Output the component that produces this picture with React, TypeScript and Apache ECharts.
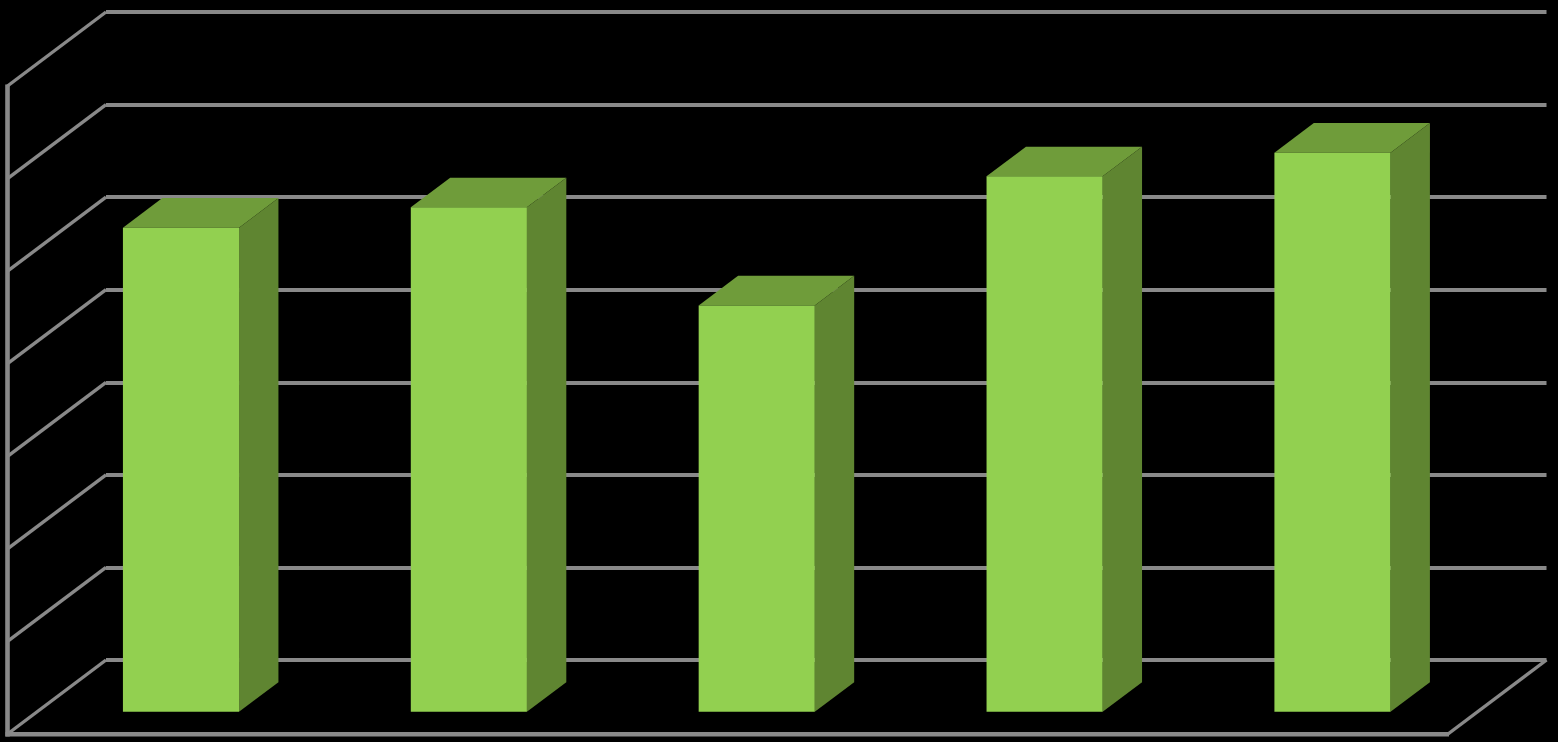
import React, { useEffect, useRef } from "react";
import * as echarts from "echarts";

const categories = ["1", "2", "3", "4", "5"];
const values = [5.23, 5.45, 4.39, 5.785, 6.04];
const axisTicks = [0, 1, 2, 3, 4, 5, 6, 7];

const FRONT_COLOR = "#92D050";
const SIDE_COLOR = "#5F8531";
const TOP_COLOR = "#6F9C3A";
const LINE_COLOR = "#898989";

// Floor depth in screen pixels; bars sit between 30% and 70% of it.
const DEPTH_X = 98.5;
const DEPTH_Y = 74;
const BAR_NEAR = 0.7;
const BAR_FAR = 0.3;
const BAR_WIDTH = 0.403;
// The bars' row is very slightly narrower than the back wall.
const ROW_SCALE = 0.9992;

export default function App() {
  const ref = useRef<HTMLDivElement>(null);

  useEffect(() => {
    document.body.style.margin = "0";
    document.body.style.background = "#000";
    const chart = echarts.init(ref.current!, undefined, { renderer: "svg" });
    chart.setOption({
      animation: false,
      backgroundColor: "#000000",
      grid: { left: 106, top: 12, width: 1440.5, height: 648 },
      xAxis: {
        type: "category",
        data: categories,
        axisLine: { show: false },
        axisTick: { show: false },
        axisLabel: { show: false },
        splitLine: { show: false },
      },
      yAxis: {
        type: "value",
        min: 0,
        max: 7,
        interval: 1,
        axisLine: { show: false },
        axisTick: { show: false },
        axisLabel: { show: false },
        splitLine: { show: true, lineStyle: { color: LINE_COLOR, width: 3.8 } },
      },
      series: [
        {
          // Side wall and floor, hung on the value axis ticks.
          type: "custom",
          z: 1,
          silent: true,
          clip: false,
          data: axisTicks.map((t) => [0, t]),
          encode: { x: 0, y: 1 },
          renderItem: (params: any, api: any) => {
            const sys = params.coordSys;
            const y = api.coord([0, api.value(1)])[1];
            const left = sys.x;
            const right = sys.x + sys.width;
            const stroke = { stroke: LINE_COLOR, lineWidth: 3.4, fill: null };
            const children: any[] = [
              {
                type: "line",
                shape: { x1: left, y1: y, x2: left - DEPTH_X, y2: y + DEPTH_Y },
                style: stroke,
              },
            ];
            if (api.value(1) === 0) {
              const topY = sys.y + DEPTH_Y;
              const heavy = { stroke: LINE_COLOR, lineWidth: 4.6, fill: null };
              children.push(
                {
                  type: "line",
                  shape: { x1: left - DEPTH_X, y1: topY - 1.5, x2: left - DEPTH_X, y2: y + DEPTH_Y + 2.5 },
                  style: heavy,
                },
                {
                  type: "line",
                  shape: { x1: left - DEPTH_X - 2, y1: y + DEPTH_Y + 0.3, x2: right - DEPTH_X + 1, y2: y + DEPTH_Y + 0.3 },
                  style: heavy,
                },
                {
                  type: "line",
                  shape: { x1: right - DEPTH_X, y1: y + DEPTH_Y, x2: right, y2: y },
                  style: stroke,
                },
              );
            }
            return { type: "group", children };
          },
        },
        {
          type: "custom",
          z: 2,
          clip: false,
          data: values.map((v, i) => [i, v]),
          encode: { x: 0, y: 1 },
          renderItem: (params: any, api: any) => {
            const sys = params.coordSys;
            const [rawCx, top] = api.coord([api.value(0), api.value(1)]);
            const cx = sys.x + (rawCx - sys.x) * ROW_SCALE;
            const base = api.coord([api.value(0), 0])[1];
            const half = (api.size([1, 0])[0] * BAR_WIDTH) / 2;
            const fx = -DEPTH_X * BAR_NEAR;
            const fy = DEPTH_Y * BAR_NEAR;
            const bx = -DEPTH_X * BAR_FAR;
            const by = DEPTH_Y * BAR_FAR;
            const x0 = cx - half;
            const x1 = cx + half;
            return {
              type: "group",
              children: [
                {
                  type: "polygon",
                  shape: {
                    points: [
                      [x0 + fx, top + fy],
                      [x1 + fx, top + fy],
                      [x1 + bx, top + by],
                      [x0 + bx, top + by],
                    ],
                  },
                  style: { fill: TOP_COLOR },
                },
                {
                  type: "polygon",
                  shape: {
                    points: [
                      [x1 + fx, top + fy],
                      [x1 + bx, top + by],
                      [x1 + bx, base + by],
                      [x1 + fx, base + fy],
                    ],
                  },
                  style: { fill: SIDE_COLOR },
                },
                {
                  type: "rect",
                  shape: { x: x0 + fx, y: top + fy, width: x1 - x0, height: base - top },
                  style: { fill: FRONT_COLOR },
                },
              ],
            };
          },
        },
      ],
    });
    return () => chart.dispose();
  }, []);

  return <div ref={ref} style={{ position: "absolute", left: 0, top: 0, width: 1558, height: 742 }} />;
}
